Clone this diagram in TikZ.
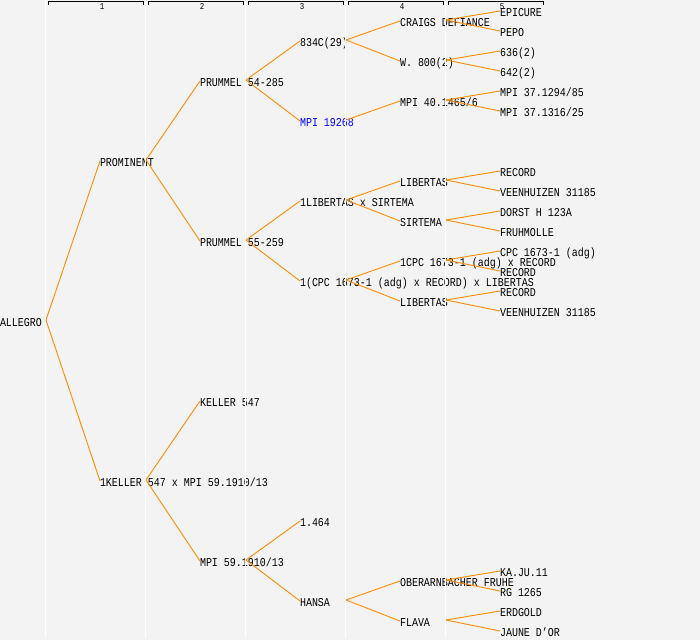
\documentclass[tikz,border=0pt]{standalone}
\usepackage{fontspec}
\usetikzlibrary{calc}
\newfontfamily\pfont[FakeStretch=0.833]{Liberation Mono}
\definecolor{bgc}{RGB}{243,243,243}
\definecolor{conncol}{RGB}{255,140,0}
\definecolor{bluecol}{RGB}{0,0,255}
\tikzset{
  lbl/.style={inner sep=0pt, outer sep=0pt, anchor=base west, text height=8pt, text depth=0pt,
    font=\pfont\fontsize{12pt}{12pt}\selectfont},
  conn/.style={draw=conncol, line width=0.9pt},
  colline/.style={draw=white, line width=1pt},
  bracket/.style={draw=black, line width=0.9pt},
  hnum/.style={inner sep=0pt, font=\pfont\fontsize{9pt}{9pt}\selectfont}
}
\begin{document}
\begin{tikzpicture}[x=1pt,y=-1pt]
\useasboundingbox (0,0) rectangle (700,640);
\fill[bgc] (0,0) rectangle (700,640);
% gen 0
\node[lbl] (a0) at (0,326) {ALLEGRO};
% gen 1
\node[lbl] (b1) at (100,166) {PROMINENT};
\node[lbl] (b2) at (100,486) {1KELLER 547 x MPI 59.1910/13};
% gen 2
\node[lbl] (c1) at (200,86) {PRUMMEL 54-285};
\node[lbl] (c2) at (200,246) {PRUMMEL 55-259};
\node[lbl] (c3) at (200,406) {KELLER 547};
\node[lbl] (c4) at (200,566) {MPI 59.1910/13};
% gen 3
\node[lbl] (d1) at (300,46) {834C(29)};
\node[lbl, text=bluecol] (d2) at (300,126) {MPI 19268};
\node[lbl] (d3) at (300,206) {1LIBERTAS x SIRTEMA};
\node[lbl] (d4) at (300,286) {1(CPC 1673-1 (adg) x RECORD) x LIBERTAS};
\node[lbl] (d5) at (300,526) {1.464};
\node[lbl] (d6) at (300,606) {HANSA};
% gen 4
\node[lbl] (e1) at (400,26) {CRAIGS DEFIANCE};
\node[lbl] (e2) at (400,66) {W. 800(2)};
\node[lbl] (e3) at (400,106) {MPI 40.1465/6};
\node[lbl] (e4) at (400,186) {LIBERTAS};
\node[lbl] (e5) at (400,226) {SIRTEMA};
\node[lbl] (e6) at (400,266) {1CPC 1673-1 (adg) x RECORD};
\node[lbl] (e7) at (400,306) {LIBERTAS};
\node[lbl] (e8) at (400,586) {OBERARNBACHER FRUHE};
\node[lbl] (e9) at (400,626) {FLAVA};
% gen 5
\node[lbl] (f1) at (500,16) {EPICURE};
\node[lbl] (f2) at (500,36) {PEPO};
\node[lbl] (f3) at (500,56) {636(2)};
\node[lbl] (f4) at (500,76) {642(2)};
\node[lbl] (f5) at (500,96) {MPI 37.1294/85};
\node[lbl] (f6) at (500,116) {MPI 37.1316/25};
\node[lbl] (f7) at (500,176) {RECORD};
\node[lbl] (f8) at (500,196) {VEENHUIZEN 31185};
\node[lbl] (f9) at (500,216) {DORST H 123A};
\node[lbl] (f10) at (500,236) {FRUHMOLLE};
\node[lbl] (f11) at (500,256) {CPC 1673-1 (adg)};
\node[lbl] (f12) at (500,276) {RECORD};
\node[lbl] (f13) at (500,296) {RECORD};
\node[lbl] (f14) at (500,316) {VEENHUIZEN 31185};
\node[lbl] (f15) at (500,576) {KA.JU.11};
\node[lbl] (f16) at (500,596) {RG 1265};
\node[lbl] (f17) at (500,616) {ERDGOLD};
\node[lbl] (f18) at (500,636) {JAUNE D’OR};
% column lines
\foreach \cx in {45,145,245,345,445}
  \draw[colline] (\cx,0) -- (\cx,638);
% connectors
\foreach \p/\c in {a0/b1, a0/b2,
  b1/c1, b1/c2, b2/c3, b2/c4,
  c1/d1, c1/d2, c2/d3, c2/d4, c4/d5, c4/d6,
  d1/e1, d1/e2, d2/e3, d3/e4, d3/e5, d4/e6, d4/e7, d6/e8, d6/e9,
  e1/f1, e1/f2, e2/f3, e2/f4, e3/f5, e3/f6, e4/f7, e4/f8, e5/f9, e5/f10,
  e6/f11, e6/f12, e7/f13, e7/f14, e8/f15, e8/f16, e9/f17, e9/f18}
  \draw[conn] ($(\p.west)+(46pt,2pt)$) -- ($(\c.west)+(0pt,1pt)$);
% column headers
\foreach \i in {1,...,5}{
  \draw[bracket] ({100*\i-52},4.5) -- ({100*\i-52},1.5) -- ({100*\i+43},1.5) -- ({100*\i+43},4.5);
  \node[hnum] (h\i) at ({100*\i+2},6.5) {\i};
}
\end{tikzpicture}
\end{document}
